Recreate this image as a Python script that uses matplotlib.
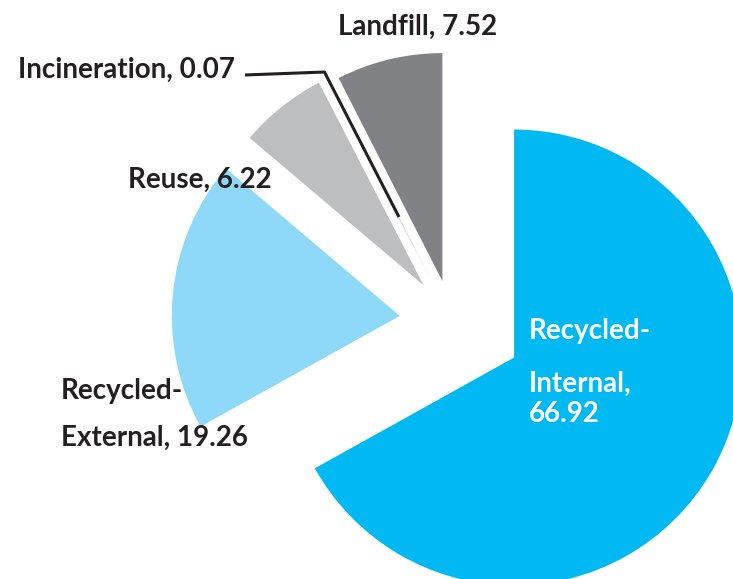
import matplotlib
matplotlib.use('Agg')
import matplotlib.pyplot as plt
import numpy as np

# waste destination shares (%)
labels = ['Recycled-Internal', 'Recycled-External', 'Reuse', 'Incineration', 'Landfill']
values = [66.92, 19.26, 6.22, 0.07, 7.52]
colors = ['#00B9F2', '#8ED8F8', '#BCBEC0', '#808285', '#808285']
explode = [0.316, 0.23, 0.2, 0.18, 0.18]

plt.rcParams['font.family'] = ['Lato', 'DejaVu Sans']
txt_color = '#231F20'
fs = 20

fig = plt.figure(figsize=(7.33, 5.79), dpi=100)
ax = fig.add_axes([0, 0, 1, 1])

wedges, _ = ax.pie(values, colors=colors, explode=explode, startangle=90,
                   counterclock=False, radius=1,
                   wedgeprops=dict(linewidth=0))

# window onto the pie: center sits at pixel (452, 321), 228 px per unit
ax.set_aspect('auto')
ax.set_xlim(-452 / 228, (733 - 452) / 228)
ax.set_ylim((321 - 579) / 228, 321 / 228)
ax.axis('off')


def lines(x, baselines, parts, color=txt_color, ha='left'):
    for yb, s in zip(baselines, parts):
        ax.text(x, yb, s, ha=ha, va='baseline', fontsize=fs,
                fontweight='bold', color=color)


lines(0.338, [-0.079, -0.311, -0.443], ['Recycled-', 'Internal,', '66.92'], color='white')
lines(-1.715, [-0.342, -0.548], ['Recycled-', 'External, 19.26'])
lines(-1.421, [0.583], ['Reuse, 6.22'])
lines(-0.151, [1.254], ['Landfill, 7.52'], ha='center')
lines(-0.952, [1.066], ['Incineration, 0.07'], ha='right')

# leader line for the tiny incineration slice, running down the gap
# between the Reuse and Landfill wedges
w = wedges[3]
theta = np.deg2rad((w.theta1 + w.theta2) / 2)
gx = (wedges[2].center[0] + wedges[4].center[0]) / 2
gy = (wedges[2].center[1] + wedges[4].center[1]) / 2


def on_gap(y):
    r = (y - gy) / np.sin(theta)
    return gx + r * np.cos(theta), y


tip = on_gap(0.456)
bend = on_gap(1.092)
start = (-0.908, 1.079)
ax.plot([start[0], bend[0], tip[0]], [start[1], bend[1], tip[1]],
        color=txt_color, lw=2.2, solid_capstyle='butt')

fig.savefig('out.png', dpi=100)
